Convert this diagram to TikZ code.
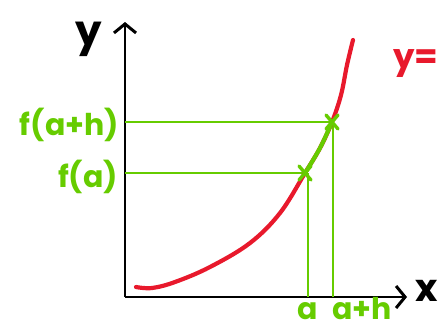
\documentclass[tikz,border=0pt]{standalone}
\usepackage{fontspec}
\setmainfont{Poppins}
\usetikzlibrary{arrows.meta,calc}
\definecolor{cred}{HTML}{E8192C}
\definecolor{cgreen}{HTML}{66CC00}
\begin{document}
\begin{tikzpicture}[x=1pt,y=-1pt,
  axis/.style={line width=2.6pt,black,-{Straight Barb[length=9pt,width=22pt,line width=3pt]}},
  guide/.style={line width=2pt,cgreen},
  curve/.style={line width=4.2pt,line cap=round,cred},
  lbl/.style={font=\fontsize{30}{30}\selectfont\bfseries,cgreen,inner sep=0pt},
  cross/.style={line width=3.4pt,cgreen,line cap=round}]
\useasboundingbox (0,0) rectangle (443,330);
\coordinate (O) at (125,297);
\coordinate (Ytop) at (125,22);
\coordinate (Xend) at (407,297);
\coordinate (A) at (305,173);
\coordinate (B) at (332,122);
\coordinate (Ay) at (125,173);
\coordinate (By) at (125,122);
\coordinate (Ax) at (308,297);
\coordinate (Bx) at (333,297);
% axes
\draw[axis] (O) -- (Ytop);
\draw[axis] (O) -- (Xend);
% guides
\draw[guide] (By) -- (B);
\draw[guide] (Ay) -- (A);
\draw[guide] (308,173) -- (Ax);
\draw[guide] (333,122) -- (Bx);
% curve
\draw[curve] plot[smooth,tension=0.6] coordinates {(136,287) (152,288) (175,282) (210,267) (250,243) (280,213) (305,173) (320,148) (332,122) (341,95) (347,65) (353,40)};
\draw[curve,cgreen] plot[smooth,tension=0.6] coordinates {(305,173) (320,148) (332,122)};
% crosses
\draw[cross] ($(A)+(-6,-7)$) -- ($(A)+(6,7)$) ($(A)+(6,-7)$) -- ($(A)+(-6,7)$);
\draw[cross] ($(B)+(-6,-7)$) -- ($(B)+(6,7)$) ($(B)+(6,-7)$) -- ($(B)+(-6,7)$);
% labels
\node[inner sep=0pt,font=\fontsize{42}{42}\selectfont\bfseries] (ylab) at (89,39) {y};
\node[inner sep=0pt,font=\fontsize{38}{38}\selectfont\bfseries] (xlab) at (427,291) {x};
\node[inner sep=0pt,anchor=west,font=\fontsize{34}{34}\selectfont\bfseries,cred] (flab) at (393,64) {y=};
\node[lbl,anchor=east] (fab) at (119,125) {f(a+h)};
\node[lbl,anchor=east] (fa) at (118,177) {f(a)};
\node[lbl,anchor=base] (alab) at (308,319) {a};
\node[lbl,anchor=base west] (ahlab) at (332,319) {a+h};
\end{tikzpicture}
\end{document}
